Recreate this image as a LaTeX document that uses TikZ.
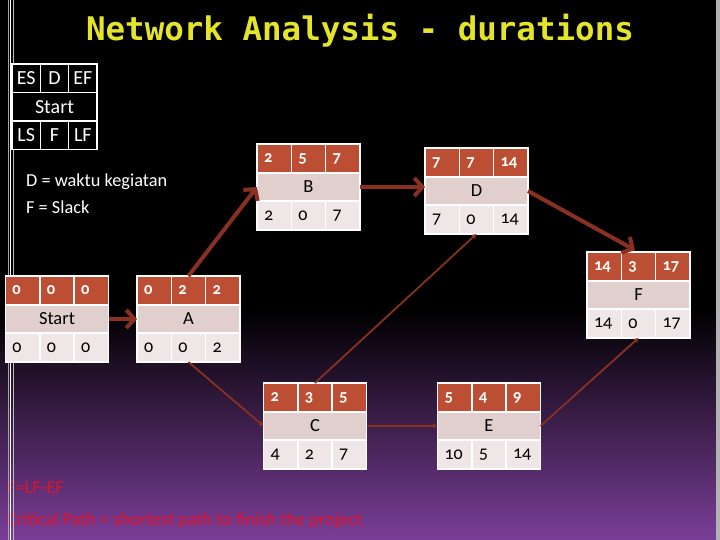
\documentclass[tikz,border=0pt]{standalone}
\usepackage{fontspec}
\setmainfont{Carlito}[Numbers=OldStyle]
\newfontfamily\titlefont{DejaVu Sans Mono}
\usetikzlibrary{arrows.meta, positioning}

\definecolor{topred}{RGB}{188,78,52}
\definecolor{midpink}{RGB}{225,207,205}
\definecolor{lowpink}{RGB}{239,231,231}
\definecolor{linkred}{RGB}{138,48,34}
\definecolor{titleyellow}{RGB}{228,228,40}
\definecolor{notered}{RGB}{226,18,42}
\definecolor{bgpurple}{RGB}{122,62,152}
\definecolor{bgdark}{RGB}{30,15,44}

\tikzset{
  cell/.style={draw=white, line width=1.5pt, outer sep=0pt, inner xsep=7pt, inner ysep=0pt,
    text width=20.3pt, align=left, minimum height=29pt},
  topcell/.style={cell, fill=topred, text=white, font=\fontsize{16.5}{17}\selectfont\bfseries},
  lowcell/.style={cell, fill=lowpink, text=black, font=\fontsize{18}{19}\selectfont},
  midcell/.style={draw=white, line width=1.5pt, outer sep=0pt, fill=midpink, minimum width=103pt,
    minimum height=28pt, inner sep=0pt, font=\fontsize{18.5}{19}\selectfont},
  legcell/.style={draw=white, line width=1.5pt, outer sep=0pt, text=white, minimum width=28.3pt,
    minimum height=28.5pt, inner sep=0pt, font=\fontsize{20}{21}\selectfont},
  crit/.style={draw=linkred, line width=4pt, -{Straight Barb[length=8pt,width=18pt]}},
  link/.style={draw=linkred, line width=1.8pt, -{Triangle[length=4.5pt,width=5pt]}},
  note/.style={anchor=west, inner sep=0pt, font=\fontsize{18.3}{19}\selectfont},
}

% activity box: name, position, label, ES, D, EF, LS, F, LF
\newcommand{\actbox}[9]{%
  \node[midcell] (#1) at #2 {#3};
  \node[topcell, anchor=south west] (#1-es) at (#1.north west) {#4};
  \node[topcell, anchor=south west] (#1-d) at (#1-es.south east) {#5};
  \node[topcell, anchor=south west] (#1-ef) at (#1-d.south east) {#6};
  \node[lowcell, anchor=north west] (#1-ls) at (#1.south west) {#7};
  \node[lowcell, anchor=north west] (#1-f) at (#1-ls.north east) {#8};
  \node[lowcell, anchor=north west] (#1-lf) at (#1-f.north east) {#9};
}

\begin{document}
\begin{tikzpicture}[x=1pt, y=-1pt]
    \useasboundingbox (0,0) rectangle (720,540);

    % Draw background
    \fill[black] (0,0) rectangle (720,310);
    \shade[top color=black, middle color=bgdark, bottom color=bgpurple] (0,309) rectangle (720,540);
    \fill[gray!60] (716,0) rectangle (720,540);

    % Notes at the bottom
    \node[note, text=notered] (slack) at (7,488) {F=LF-EF};
    \node[note, text=notered] (critical) at (7,521) {Critical Path = shortest path to finish the project};

    % Left border lines
    \draw[gray!70, line width=1pt] (8,0) -- (8,540);
    \draw[white, line width=1pt] (10.5,0) -- (10.5,540);
    \draw[gray!50, line width=0.8pt] (13,0) -- (13,540);

    % Title
    \node[anchor=base, inner sep=0pt, text=titleyellow,
      font=\titlefont\bfseries\fontsize{32.5}{34}\selectfont] (title) at (360,41) {Network Analysis - durations};

    % Legend box
    \node[legcell, fill=black] (les) at (26.2,78.5) {ES};
    \node[legcell, fill=black, right=0pt of les] (ld) {D};
    \node[legcell, fill=black, right=0pt of ld] (lef) {EF};
    \node[legcell, fill=black, minimum width=84.9pt, anchor=north west] (lstart) at (les.south west) {Start};
    \node[legcell, fill=black, anchor=north west] (lls) at (lstart.south west) {LS};
    \node[legcell, fill=black, right=0pt of lls] (lf) {F};
    \node[legcell, fill=black, right=0pt of lf] (llf) {LF};

    \node[note, text=white] (noted) at (26,182) {D = waktu kegiatan};
    \node[note, text=white] (notef) at (26,207) {F = Slack};

    % Activity boxes
    \actbox{Start}{(57,319)}{Start}{0}{0}{0}{0}{0}{0}
    \actbox{A}{(188.5,319)}{A}{0}{2}{2}{0}{0}{2}
    \actbox{B}{(308.5,187)}{B}{2}{5}{7}{2}{0}{7}
    \actbox{D}{(476.5,191)}{D}{7}{7}{14}{7}{0}{14}
    \actbox{F}{(638.5,295)}{F}{14}{3}{17}{14}{0}{17}
    \actbox{C}{(315,426)}{C}{2}{3}{5}{4}{2}{7}
    \actbox{E}{(489,426)}{E}{5}{4}{9}{10}{5}{14}

    % Critical path
    \draw[crit] (Start.east) -- (A.west);
    \draw[crit] (A-d.north) -- (B.west);
    \draw[crit] (B.east) -- (B.east -| D.west);
    \draw[crit, shorten >=4pt] (D.east) -- (F-d.north);

    % Other links
    \draw[link] (A-f.south) -- (C.west);
    \draw[link] (C.east) -- (E.west);
    \draw[link] (C-d.north) -- (D-f.south);
    \draw[link] (E.east) -- (F-f.south);
\end{tikzpicture}
\end{document}
